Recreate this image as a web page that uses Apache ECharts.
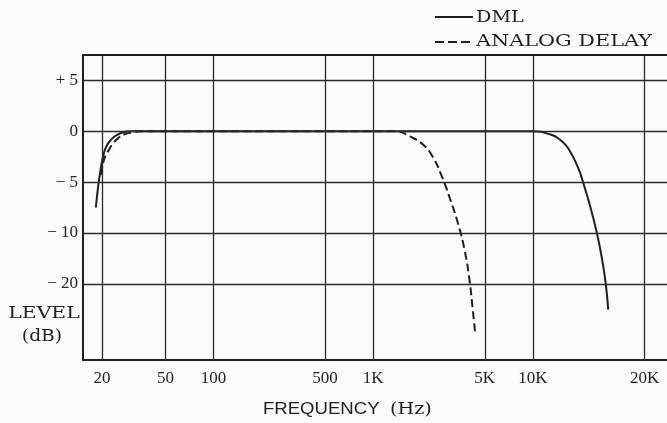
<!DOCTYPE html>
<html>
<head>
<meta charset="utf-8">
<script src="https://cdn.jsdelivr.net/npm/echarts@6/dist/echarts.min.js"></script>
<style>
  html, body { margin: 0; padding: 0; background: #fbfbfa; }
  #chart { width: 667px; height: 423px; }
</style>
</head>
<body>
<div id="chart"></div>
<script>
// tick marks
const xTickFreqs = [20, 50, 100, 500, 1000, 5000, 10000, 20000]
const xTickLabels = ['20', '50', '100', '500', '1K', '5K', '10K', '20K']
const yTickLevels = [5, 0, -5, -10, -20]
const yTickLabels = ['+ 5', '0', '− 5', '− 10', '− 20']

// DML response (Hz, dB)
const dmlFreq = [18.3, 18.9, 19.5, 20.3, 21.3, 22.9, 24.6, 27.1, 30, 35, 10000, 11100, 12000, 12600, 13250, 13700, 14250, 14850, 15300, 15700, 15950]
const dmlLevel = [-7.5, -5.5, -4.0, -2.5, -1.5, -0.8, -0.4, -0.1, 0, 0, 0, -0.3, -1.0, -2.0, -3.6, -5.2, -7.3, -9.9, -14.5, -19.8, -25.1]

// analog delay response (Hz, dB)
const analogFreq = [19.6, 20.1, 20.8, 21.8, 23.2, 25.2, 27.7, 31.3, 35.3, 1400, 1690, 2050, 2360, 2670, 3010, 3390, 3730, 4010, 4210, 4360]
const analogLevel = [-4.3, -3.5, -2.6, -2.0, -1.3, -0.7, -0.3, -0.1, 0, 0, -0.5, -1.3, -2.5, -4.3, -6.5, -9.0, -13.2, -19.2, -25.2, -29.8]

// the printed frequency axis is logarithmic up to 10K, the last octave is stretched
const freqToAxis = (f) => {
  if (f <= 10000) return Math.log10(f)
  return 4 + Math.log10(f / 10000) * 2.33
}
// level axis: 5 dB per division down to -10, then 10 dB per division
const dbToAxis = (db) => {
  if (db >= -10) return db / 5
  return -2 + (db + 10) / 10
}

const ink = '#1f1f1f'
const serif = '"Liberation Serif", "DejaVu Serif", serif'
const wideSerif = '"DejaVu Serif", serif'

const xTickPos = xTickFreqs.map(freqToAxis)
const yTickPos = yTickLevels.map(dbToAxis)
const nearestIndex = (arr, v) => {
  let best = 0
  arr.forEach((p, i) => { if (Math.abs(p - v) < Math.abs(arr[best] - v)) best = i })
  return best
}

const chart = echarts.init(document.getElementById('chart'))

const option = {
  animation: false,
  backgroundColor: '#fbfbfa',
  grid: {
    left: 83,
    right: 0,
    top: 55,
    bottom: 63
  },
  xAxis: {
    type: 'value',
    min: 1.182,
    max: 4.841,
    axisLine: { show: true, onZero: false, lineStyle: { color: ink, width: 2 } },
    axisTick: { show: false },
    splitLine: { show: false },
    axisLabel: {
      customValues: xTickPos,
      margin: 10,
      fontFamily: serif,
      fontSize: 17,
      color: ink,
      formatter: (v) => xTickLabels[nearestIndex(xTickPos, v)]
    }
  },
  yAxis: {
    type: 'value',
    min: -4.5,
    max: 1.5,
    axisLine: { show: true, onZero: false, lineStyle: { color: ink, width: 2 } },
    axisTick: { show: false },
    splitLine: { show: false },
    axisLabel: {
      customValues: yTickPos,
      margin: 5,
      fontFamily: serif,
      fontSize: 17,
      color: ink,
      formatter: (v) => yTickLabels[nearestIndex(yTickPos, v)]
    }
  },
  series: [
    {
      name: 'DML',
      type: 'line',
      symbol: 'none',
      smooth: 0.5,
      lineStyle: { color: ink, width: 2 },
      data: dmlFreq.map((f, i) => [freqToAxis(f), dbToAxis(dmlLevel[i])]),
      markLine: {
        silent: true,
        symbol: ['none', 'none'],
        label: { show: false },
        lineStyle: { color: '#2a2a2a', width: 1.3, type: 'solid' },
        data: [
          ...xTickPos.map(v => ({ xAxis: v })),
          ...yTickPos.map(v => ({ yAxis: v })),
          { yAxis: 1.5, lineStyle: { color: ink, width: 2 } }
        ]
      }
    },
    {
      name: 'ANALOG DELAY',
      type: 'line',
      symbol: 'none',
      smooth: 0.5,
      lineStyle: { color: ink, width: 2, type: [8, 4] },
      data: analogFreq.map((f, i) => [freqToAxis(f), dbToAxis(analogLevel[i])])
    }
  ],
  graphic: [
    // legend
    { type: 'line', shape: { x1: 435, y1: 17, x2: 473, y2: 17 }, style: { stroke: ink, lineWidth: 2 } },
    { type: 'text', x: 476, y: 18, scaleX: 1.2, style: { text: 'DML', font: '16px ' + wideSerif, fill: ink, textAlign: 'left', textVerticalAlign: 'middle' } },
    { type: 'line', shape: { x1: 435, y1: 42, x2: 473, y2: 42 }, style: { stroke: ink, lineWidth: 2, lineDash: [9, 4] } },
    { type: 'text', x: 476, y: 42, scaleX: 1.3, style: { text: 'ANALOG DELAY', font: '16px ' + wideSerif, fill: ink, textAlign: 'left', textVerticalAlign: 'middle' } },
    // axis names
    { type: 'text', x: 44, y: 314, scaleX: 1.27, style: { text: 'LEVEL', font: '16px ' + wideSerif, fill: ink, textAlign: 'center', textVerticalAlign: 'middle' } },
    { type: 'text', x: 42, y: 337, scaleX: 1.17, style: { text: '(dB)', font: '16px ' + wideSerif, fill: ink, textAlign: 'center', textVerticalAlign: 'middle' } },
    { type: 'text', x: 263, y: 410, scaleX: 1.16, style: { text: 'FREQUENCY', font: '16px "Liberation Sans", Arial, sans-serif', fill: ink, textAlign: 'left', textVerticalAlign: 'middle' } },
    { type: 'text', x: 390, y: 410, scaleX: 1.2, style: { text: '(Hz)', font: '16px ' + wideSerif, fill: ink, textAlign: 'left', textVerticalAlign: 'middle' } }
  ]
}

chart.setOption(option)
</script>
</body>
</html>
